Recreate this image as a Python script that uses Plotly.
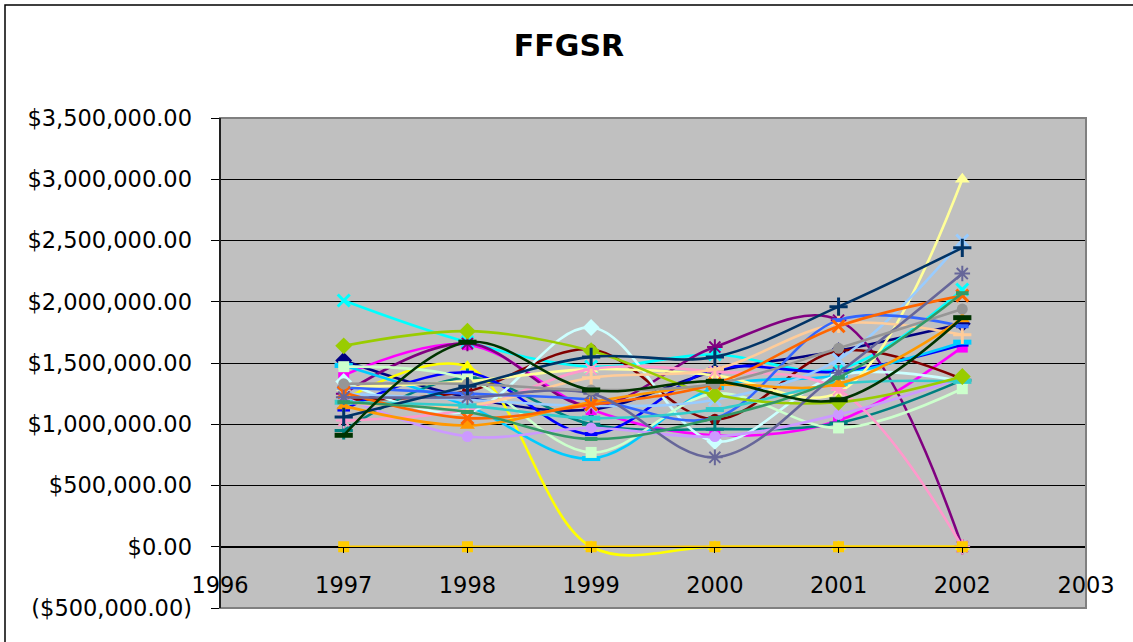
import plotly.graph_objects as go

# ---------------- data ----------------
years = [1997, 1998, 1999, 2000, 2001, 2002]

s01 = [1520000, 1220000, 1120000, 1430000, 1600000, 1820000]
s02 = [1400000, 1650000, 1120000, 910000, 1030000, 1630000]
s03 = [1200000, 1470000, 0, 0, 0, 0]
s04 = [2010000, 1670000, 1470000, 1570000, 1450000, 2100000]
s05 = [1250000, 1660000, 1150000, 1630000, 1850000, 0]
s06 = [1200000, 1270000, 1610000, 1040000, 1600000, 1370000]
s07 = [950000, 1380000, 1000000, 960000, 1010000, 1360000]
s08 = [1120000, 1420000, 920000, 1450000, 1430000, 1650000]
s09 = [1480000, 1150000, 720000, 1300000, 1400000, 1670000]
s10 = [1350000, 1100000, 1790000, 860000, 1400000, 1350000]
s11 = [1470000, 1370000, 770000, 1250000, 970000, 1290000]
s12 = [1300000, 1350000, 1450000, 1400000, 1260000, 3000000]
s13 = [1250000, 1200000, 1150000, 1200000, 1530000, 2500000]
s14 = [1030000, 1120000, 1450000, 1430000, 1280000, 0]
s15 = [1220000, 900000, 970000, 900000, 1080000, 1380000]
s16 = [1180000, 1150000, 1380000, 1450000, 1820000, 1730000]
s17 = [1300000, 1250000, 1200000, 1050000, 1850000, 1800000]
s18 = [1180000, 1150000, 1050000, 1120000, 1330000, 1350000]
s19 = [1640000, 1760000, 1600000, 1240000, 1180000, 1390000]
s20 = [0, 0, 0, 0, 0, 0]
s21 = [1150000, 990000, 1180000, 1320000, 1330000, 1860000]
s22 = [1260000, 1050000, 1160000, 1330000, 1800000, 2050000]
s23 = [1220000, 1220000, 1250000, 730000, 1420000, 2230000]
s24 = [1330000, 1330000, 1280000, 1330000, 1620000, 1940000]
s25 = [1060000, 1310000, 1550000, 1550000, 1960000, 2440000]
s26 = [1180000, 1100000, 880000, 1050000, 1380000, 2070000]
s27 = [910000, 1670000, 1280000, 1350000, 1200000, 1870000]

series_values = [s01, s02, s03, s04, s05, s06, s07, s08, s09, s10, s11, s12, s13, s14,
                 s15, s16, s17, s18, s19, s20, s21, s22, s23, s24, s25, s26, s27]

y_tick_vals = [-500000, 0, 500000, 1000000, 1500000, 2000000, 2500000, 3000000, 3500000]
y_tick_text = ["($500,000.00)", "$0.00", "$500,000.00", "$1,000,000.00", "$1,500,000.00",
               "$2,000,000.00", "$2,500,000.00", "$3,000,000.00", "$3,500,000.00"]
x_tick_vals = [1996, 1997, 1998, 1999, 2000, 2001, 2002, 2003]
x_tick_text = ["1996", "1997", "1998", "1999", "2000", "2001", "2002", "2003"]
title_text = "FFGSR"

# ---------------- styles ----------------
colors = ["#000080", "#FF00FF", "#FFFF00", "#00FFFF", "#800080", "#800000", "#008080",
          "#0000FF", "#00CCFF", "#CCFFFF", "#CCFFCC", "#FFFF99", "#99CCFF", "#FF99CC",
          "#CC99FF", "#FFCC99", "#3366FF", "#33CCCC", "#99CC00", "#FFCC00", "#FF9900",
          "#FF6600", "#666699", "#969696", "#003366", "#339966", "#003300"]
marker_cycle = ["diamond", "square", "triangle", "x", "star", "circle", "plus", "sdash", "ldash"]
marker_spec = {
    "diamond": dict(symbol="diamond", size=13, lw=0),
    "square": dict(symbol="square", size=11, lw=0),
    "triangle": dict(symbol="triangle-up", size=13, lw=0),
    "x": dict(symbol="x-thin-open", size=12, lw=3),
    "star": dict(symbol="asterisk-open", size=13, lw=2),
    "circle": dict(symbol="circle", size=11, lw=0),
    "plus": dict(symbol="cross-thin-open", size=13, lw=3),
    "sdash": dict(symbol="line-ew-open", size=9, lw=4),
    "ldash": dict(symbol="line-ew-open", size=13, lw=5),
}

fig = go.Figure()
for i, vals in enumerate(series_values):
    c = colors[i]
    m = marker_spec[marker_cycle[i % 9]]
    fig.add_trace(go.Scatter(
        x=years, y=vals, mode="lines+markers",
        line=dict(color=c, width=2.6, shape="spline", smoothing=1.0),
        marker=dict(symbol=m["symbol"], size=m["size"], color=c,
                    line=dict(color=c, width=m["lw"])),
        showlegend=False, hoverinfo="skip",
    ))

L, R, T, B = 220, 47, 118, 34
W, H = 1133, 642
pw, ph = W - L - R, H - T - B
FONT = "DejaVu Sans, Verdana, sans-serif"

fig.update_layout(
    width=W, height=H,
    margin=dict(l=L, r=R, t=T, b=B, pad=0),
    paper_bgcolor="white",
    plot_bgcolor="#C0C0C0",
    hovermode=False,
    font=dict(family=FONT, color="black", size=22.5),
    title=dict(text=title_text, x=569 / W, xanchor="center", y=1 - 45 / H, yanchor="middle",
               font=dict(family=FONT, size=30, color="black", weight="bold")),
    xaxis=dict(range=[1996, 2003], tickvals=x_tick_vals, ticktext=x_tick_text,
               showgrid=False, zeroline=False, showline=True, linecolor="black", linewidth=1,
               ticks="outside", ticklen=5, tickcolor="black", tickwidth=1,
               anchor="free", position=0.125, ticklabelstandoff=13,
               tickfont=dict(size=22.5)),
    yaxis=dict(range=[-500000, 3500000], tickvals=y_tick_vals, ticktext=y_tick_text,
               showgrid=True, gridcolor="black", gridwidth=1, zeroline=False,
               showline=True, linecolor="black", linewidth=1.5,
               ticks="outside", ticklen=8, tickcolor="black", tickwidth=1,
               ticklabelstandoff=14, tickfont=dict(size=22.5)),
    shapes=[
        dict(type="rect", xref="paper", yref="paper", x0=0, x1=1, y0=0, y1=1,
             line=dict(color="#808080", width=2), fillcolor="rgba(0,0,0,0)", layer="above"),
        dict(type="line", xref="paper", yref="paper", x0=0, x1=0, y0=0, y1=1,
             line=dict(color="black", width=1.5), layer="above"),
        dict(type="rect", xref="paper", yref="paper",
             x0=(5 - L) / pw, x1=1.5, y0=-0.5, y1=(H - B - 5) / ph,
             line=dict(color="black", width=1.5), fillcolor="rgba(0,0,0,0)", layer="above"),
    ],
)

fig.write_html("out.html", config={"displayModeBar": False, "staticPlot": True},
               post_script="document.body.style.margin='0';document.body.style.overflow='hidden';")
